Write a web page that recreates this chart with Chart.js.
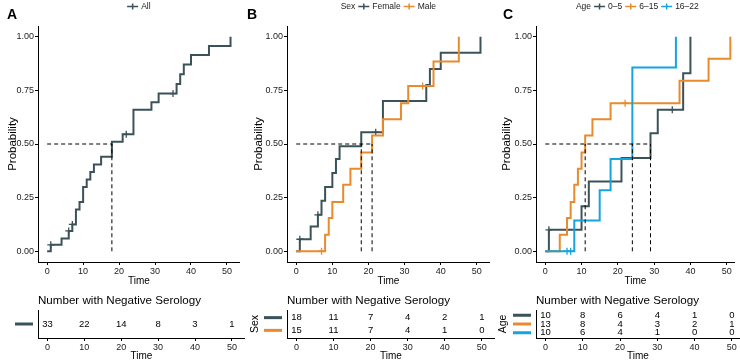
<!DOCTYPE html>
<html>
<head>
<meta charset="utf-8">
<script src="https://cdn.jsdelivr.net/npm/chart.js@4"></script>
<style>
  body { margin: 0; background: #fff; }
  #wrap { position: relative; width: 740px; height: 362px; overflow: hidden; }
  canvas { position: absolute; }
</style>
</head>
<body>
<div id="wrap">
  <canvas id="kmA" width="245" height="290" style="left:0;top:0"></canvas>
  <canvas id="kmB" width="250" height="290" style="left:245px;top:0"></canvas>
  <canvas id="kmC" width="250" height="290" style="left:490px;top:0"></canvas>
  <canvas id="riskA" width="245" height="72" style="left:0;top:290px"></canvas>
  <canvas id="riskB" width="250" height="72" style="left:245px;top:290px"></canvas>
  <canvas id="riskC" width="250" height="72" style="left:490px;top:290px"></canvas>
</div>
<script>
// tick labels
const timeTicks = [0, 10, 20, 30, 40, 50];
const probTicks = [0, 0.25, 0.5, 0.75, 1];

// panel A - all
const allTime = [0, 1, 4, 6, 7, 8, 9, 10, 11, 12, 13, 15, 18, 21, 24, 29, 31, 36, 37, 38, 40, 45, 51];
const allProb = [0, 0.03, 0.06, 0.095, 0.125, 0.195, 0.23, 0.30, 0.335, 0.37, 0.405, 0.44, 0.51, 0.545, 0.66, 0.695, 0.735, 0.78, 0.825, 0.87, 0.915, 0.957, 1.0];
const allCensTime = [1, 6, 7, 22, 35];
const allCensProb = [0.03, 0.095, 0.125, 0.545, 0.735];
const allMedian = [18];
const allRisk = [33, 22, 14, 8, 3, 1];

// panel B - sex
const femTime = [0, 1, 4, 6, 7, 8, 10, 11, 12, 18, 24, 36, 37, 40, 51];
const femProb = [0, 0.056, 0.115, 0.17, 0.235, 0.30, 0.365, 0.43, 0.49, 0.555, 0.70, 0.775, 0.85, 0.925, 1.0];
const femCensTime = [1, 6, 22];
const femCensProb = [0.056, 0.17, 0.555];
const maleTime = [0, 8, 9, 10, 13, 15, 18, 21, 24, 29, 31, 38, 45];
const maleProb = [0, 0.077, 0.155, 0.23, 0.31, 0.385, 0.46, 0.54, 0.615, 0.69, 0.77, 0.885, 1.0];
const maleCensTime = [7, 35];
const maleCensProb = [0, 0.77];
const sexMedian = [18, 21];
const femRisk = [18, 11, 7, 4, 2, 1];
const maleRisk = [15, 11, 7, 4, 1, 0];

// panel C - age
const age05Time = [0, 1, 10, 12, 21, 29, 31, 38, 40];
const age05Prob = [0, 0.1, 0.21, 0.325, 0.435, 0.55, 0.66, 0.83, 1.0];
const age05CensTime = [1, 35];
const age05CensProb = [0.1, 0.66];
const age615Time = [0, 4, 6, 7, 8, 9, 10, 11, 13, 18, 37, 45, 51];
const age615Prob = [0, 0.077, 0.155, 0.23, 0.31, 0.385, 0.46, 0.54, 0.615, 0.69, 0.795, 0.897, 1.0];
const age615CensTime = [22];
const age615CensProb = [0.69];
const age1622Time = [0, 8, 15, 18, 24, 36];
const age1622Prob = [0, 0.143, 0.285, 0.43, 0.857, 1.0];
const age1622CensTime = [6, 7];
const age1622CensProb = [0, 0];
const ageMedian = [11, 24, 29];
const age05Risk = [10, 8, 6, 4, 1, 0];
const age615Risk = [13, 8, 4, 3, 2, 1];
const age1622Risk = [10, 6, 4, 1, 0, 0];

const DARK = "#3b5259";
const ORANGE = "#e98a2c";
const BLUE = "#15a5dc";
const FONT = "'Liberation Sans', Arial, sans-serif";

Chart.defaults.font.family = FONT;
Chart.defaults.color = "#222";

function pts(xs, ys) {
  return xs.map((x, i) => ({ x: x, y: ys[i] }));
}

function timeAxis(xMax, height) {
  return {
    type: "linear",
    min: -2.55,
    max: xMax,
    afterBuildTicks: s => { s.ticks = timeTicks.map(v => ({ value: v })); },
    ticks: { font: { size: 9 }, padding: 1, maxRotation: 0, autoSkip: false, color: "#222" },
    grid: { drawOnChartArea: false, tickLength: 3, color: "#000" },
    border: { color: "#000", width: 1 },
    title: { display: true, text: "Time", font: { size: 10 }, padding: 0, color: "#000" },
    afterFit: s => { s.height = height; }
  };
}

function kmPlugin(cfg) {
  return {
    id: "kmExtras",
    afterDraw(chart) {
      const ctx = chart.ctx;
      const area = chart.chartArea;
      ctx.save();
      ctx.font = "bold 14px " + FONT;
      ctx.fillStyle = "#000";
      ctx.textAlign = "left";
      ctx.textBaseline = "alphabetic";
      ctx.fillText(cfg.letter, cfg.letterX, 18.5);

      // legend on top
      ctx.font = "8.5px " + FONT;
      ctx.textBaseline = "middle";
      const y = 6.5;
      let w = 0;
      if (cfg.legendTitle) w += ctx.measureText(cfg.legendTitle).width + 3;
      cfg.groups.forEach((g, i) => {
        w += 14 + ctx.measureText(g.label).width + (i < cfg.groups.length - 1 ? 3 : 0);
      });
      let x = (area.left + area.right) / 2 + (cfg.legendShift || 0) - w / 2;
      ctx.fillStyle = "#222";
      if (cfg.legendTitle) {
        ctx.fillText(cfg.legendTitle, x, y);
        x += ctx.measureText(cfg.legendTitle).width + 3;
      }
      cfg.groups.forEach(g => {
        ctx.strokeStyle = g.color;
        ctx.lineWidth = 1.5;
        ctx.beginPath();
        ctx.moveTo(x, y); ctx.lineTo(x + 11, y);
        ctx.moveTo(x + 5.5, y - 3); ctx.lineTo(x + 5.5, y + 3);
        ctx.stroke();
        x += 14;
        ctx.fillStyle = "#222";
        ctx.fillText(g.label, x, y);
        x += ctx.measureText(g.label).width + 3;
      });
      ctx.restore();
    }
  };
}

function kmChart(id, cfg) {
  const datasets = [];
  const medMax = Math.max(...cfg.medians);
  const dash = { borderColor: "#000", borderWidth: 1, borderDash: [4, 3], pointRadius: 0, order: 0 };
  datasets.push(Object.assign({ data: [{ x: 0, y: 0.5 }, { x: medMax, y: 0.5 }] }, dash));
  cfg.medians.forEach(m => {
    datasets.push(Object.assign({ data: [{ x: m, y: 0 }, { x: m, y: 0.5 }] }, dash));
  });
  cfg.groups.forEach((g, i) => {
    datasets.push({
      data: pts(g.time, g.prob),
      stepped: true,
      borderColor: g.color,
      borderWidth: 2,
      pointRadius: 0,
      order: 10 - i
    });
    datasets.push({
      data: pts(g.censTime, g.censProb),
      showLine: false,
      pointStyle: "cross",
      pointRadius: 3.5,
      pointBorderColor: g.color,
      pointBorderWidth: 1.3,
      order: 10 - i
    });
  });

  new Chart(document.getElementById(id), {
    type: "line",
    data: { datasets: datasets },
    options: {
      responsive: false,
      animation: false,
      events: [],
      layout: { padding: { left: cfg.padL, right: 0, top: 26, bottom: 3 } },
      plugins: { legend: { display: false }, tooltip: { enabled: false } },
      scales: {
        x: timeAxis(cfg.xMax, 25),
        y: {
          min: -0.05,
          max: 1.05,
          afterBuildTicks: s => { s.ticks = probTicks.map(v => ({ value: v })); },
          ticks: { font: { size: 9 }, padding: 1, color: "#222", callback: v => Number(v).toFixed(2) },
          grid: { drawOnChartArea: false, tickLength: 3, color: "#000" },
          border: { color: "#000", width: 1 },
          title: { display: true, text: "Probability", font: { size: 11.5 }, padding: 0, color: "#000" },
          afterFit: s => { s.width = cfg.yW; }
        }
      }
    },
    plugins: [kmPlugin(cfg)]
  });
}

function riskPlugin(cfg) {
  return {
    id: "riskExtras",
    afterDatasetsDraw(chart) {
      const ctx = chart.ctx;
      const area = chart.chartArea;
      ctx.save();
      ctx.fillStyle = "#000";
      ctx.textAlign = "left";
      ctx.textBaseline = "middle";
      ctx.font = "11.6px " + FONT;
      ctx.fillText("Number with Negative Serology", area.left, 10.5);
      if (cfg.label) {
        ctx.save();
        ctx.translate(cfg.labelX, (area.top + area.bottom) / 2);
        ctx.rotate(-Math.PI / 2);
        ctx.textAlign = "center";
        ctx.font = "10.5px " + FONT;
        ctx.fillText(cfg.label, 0, 0);
        ctx.restore();
      }
      ctx.font = "9.5px " + FONT;
      ctx.textAlign = "center";
      chart.data.datasets.forEach((ds, i) => {
        const meta = chart.getDatasetMeta(i);
        meta.data.forEach((p, j) => {
          ctx.fillText(String(ds.data[j].n), p.x, p.y);
        });
        const yy = meta.data[0].y;
        ctx.strokeStyle = ds.rowColor;
        ctx.lineWidth = 3;
        ctx.beginPath();
        ctx.moveTo(area.left - 23, yy);
        ctx.lineTo(area.left - 5, yy);
        ctx.stroke();
      });
      ctx.restore();
    }
  };
}

function riskChart(id, cfg) {
  const datasets = cfg.groups.map((g, r) => ({
    data: timeTicks.map((t, j) => ({ x: t, y: r + 1, n: g.risk[j] })),
    rowColor: g.color,
    showLine: false,
    pointRadius: 0
  }));
  new Chart(document.getElementById(id), {
    type: "line",
    data: { datasets: datasets },
    options: {
      responsive: false,
      animation: false,
      events: [],
      layout: { padding: { left: cfg.padL, right: 0, top: 20, bottom: 0 } },
      plugins: { legend: { display: false }, tooltip: { enabled: false } },
      scales: {
        x: timeAxis(cfg.xMax, 24),
        y: {
          min: 0.4,
          max: cfg.groups.length + 0.6,
          reverse: true,
          ticks: { display: false },
          grid: { display: false },
          border: { color: "#000", width: 1 },
          afterFit: s => { s.width = cfg.yW; }
        }
      }
    },
    plugins: [riskPlugin(cfg)]
  });
}

const groupsA = [
  { label: "All", color: DARK, time: allTime, prob: allProb, censTime: allCensTime, censProb: allCensProb, risk: allRisk }
];
const groupsB = [
  { label: "Female", color: DARK, time: femTime, prob: femProb, censTime: femCensTime, censProb: femCensProb, risk: femRisk },
  { label: "Male", color: ORANGE, time: maleTime, prob: maleProb, censTime: maleCensTime, censProb: maleCensProb, risk: maleRisk }
];
const groupsC = [
  { label: "0\u20135", color: DARK, time: age05Time, prob: age05Prob, censTime: age05CensTime, censProb: age05CensProb, risk: age05Risk },
  { label: "6\u201315", color: ORANGE, time: age615Time, prob: age615Prob, censTime: age615CensTime, censProb: age615CensProb, risk: age615Risk },
  { label: "16\u201322", color: BLUE, time: age1622Time, prob: age1622Prob, censTime: age1622CensTime, censProb: age1622CensProb, risk: age1622Risk }
];

kmChart("kmA", { letter: "A", letterX: 7, legendTitle: "", groups: groupsA, medians: allMedian, xMax: 53.55, padL: 6, yW: 32 });
kmChart("kmB", { letter: "B", letterX: 2, legendTitle: "Sex", groups: groupsB, medians: sexMedian, xMax: 53.55, padL: 7, yW: 35 });
kmChart("kmC", { letter: "C", letterX: 13, legendTitle: "Age", groups: groupsC, medians: ageMedian, xMax: 52.2, padL: 10, yW: 36, legendShift: 2 });

riskChart("riskA", { groups: groupsA, xMax: 53.55, padL: 6, yW: 32 });
riskChart("riskB", { groups: groupsB, xMax: 53.55, padL: 7, yW: 35, label: "Sex", labelX: 10 });
riskChart("riskC", { groups: groupsC, xMax: 52.2, padL: 10, yW: 36, label: "Age", labelX: 13 });
</script>
</body>
</html>
